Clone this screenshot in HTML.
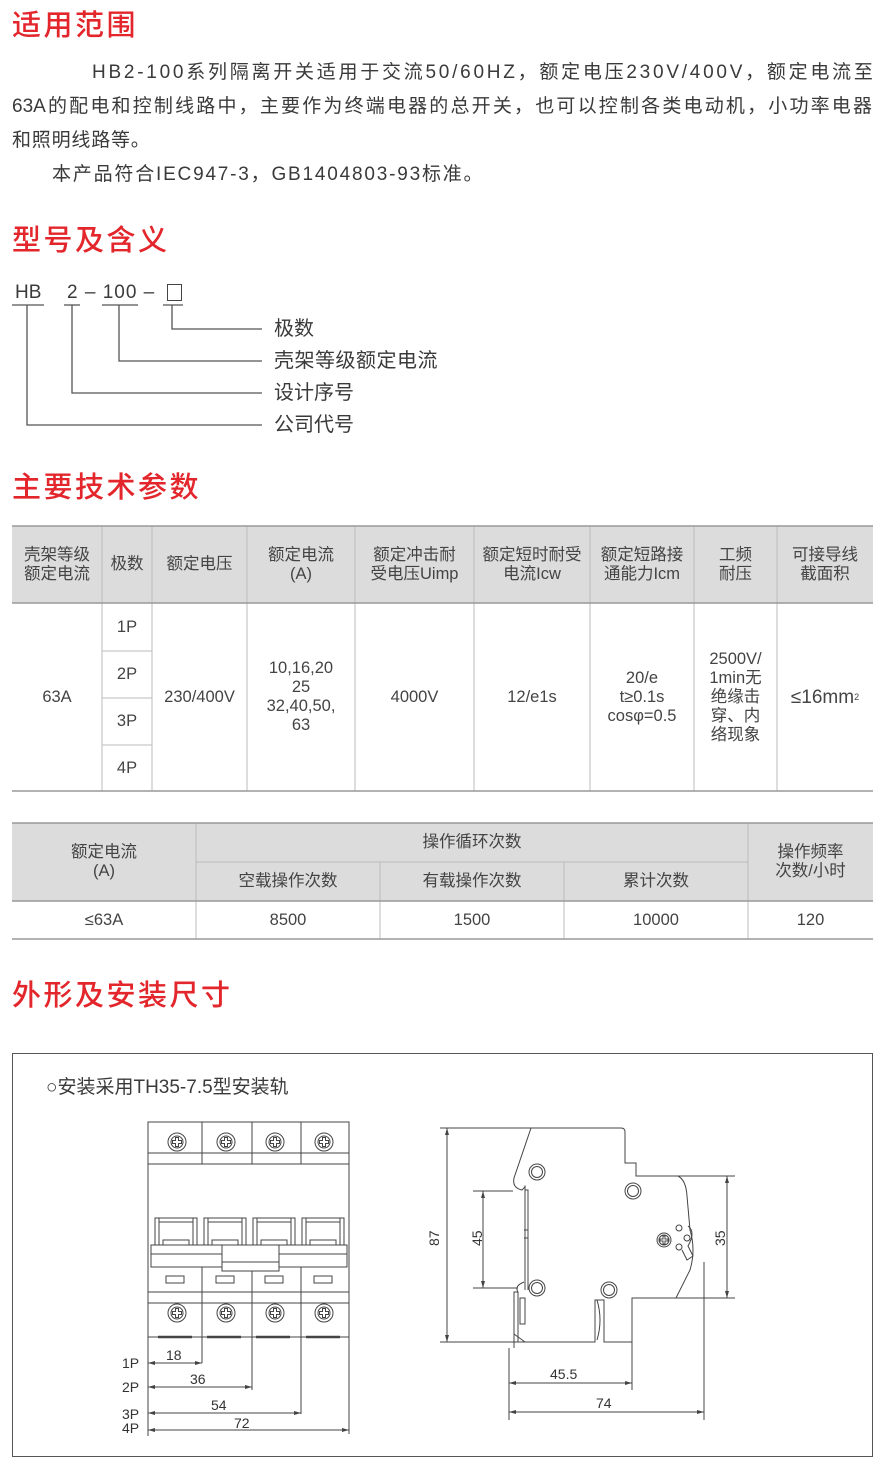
<!DOCTYPE html>
<html><head><meta charset="utf-8"><style>
*{margin:0;padding:0;box-sizing:border-box}
body{width:881px;height:1480px;background:#fff;position:relative;overflow:hidden;font-family:"Liberation Sans","Noto Sans CJK SC",sans-serif;color:#3a3a3a}
.h{position:absolute;left:12px;color:#e3262b;font-size:29px;font-weight:500;letter-spacing:2.5px;line-height:34px}
.t{position:absolute;font-size:19px;line-height:22px;white-space:nowrap;color:#3a3a3a}
.j{text-align:justify;text-align-last:justify;white-space:normal}
.c{position:absolute;display:flex;align-items:center;justify-content:center;text-align:center;font-size:16.5px;line-height:19px;color:#444}
.g{background:#dcdcdc}
svg{position:absolute;left:0;top:0}
</style></head><body>
<div class="h" style="top:9px">适用范围</div>
<div class="t" style="left:92px;top:62px;letter-spacing:2.75px">HB2-100系列隔离开关适用于交流50/60HZ，额定电压230V/400V，额定电流至</div>
<div class="t j" style="left:12px;top:96px;width:860px">63A的配电和控制线路中，主要作为终端电器的总开关，也可以控制各类电动机，小功率电器</div>
<div class="t" style="left:12px;top:130px;letter-spacing:0.8px">和照明线路等。</div>
<div class="t" style="left:52px;top:164px;letter-spacing:1.8px">本产品符合IEC947-3，GB1404803-93标准。</div>

<div class="h" style="top:224px">型号及含义</div>
<div class="t" style="left:15px;top:282px;font-size:19px">HB</div>
<div class="t" style="left:67px;top:282px;font-size:19px;letter-spacing:1px">2 – 100 –</div>
<div style="position:absolute;left:167px;top:284px;width:15px;height:17px;border:1.5px solid #444"></div>
<div class="t" style="left:274px;top:318px;font-size:20px">极数</div>
<div class="t" style="left:274px;top:350px;font-size:20px;letter-spacing:0.5px">壳架等级额定电流</div>
<div class="t" style="left:274px;top:382px;font-size:20px">设计序号</div>
<div class="t" style="left:274px;top:414px;font-size:20px">公司代号</div>

<div class="h" style="top:471px">主要技术参数</div>

<div class="c g" style="left:12px;top:526px;width:861px;height:77px"></div>
<div class="c" style="left:12px;top:526px;width:90px;height:77px">壳架等级<br>额定电流</div>
<div class="c" style="left:102px;top:526px;width:50px;height:77px">极数</div>
<div class="c" style="left:152px;top:526px;width:95px;height:77px">额定电压</div>
<div class="c" style="left:247px;top:526px;width:108px;height:77px">额定电流<br>(A)</div>
<div class="c" style="left:355px;top:526px;width:119px;height:77px">额定冲击耐<br>受电压Uimp</div>
<div class="c" style="left:474px;top:526px;width:116px;height:77px">额定短时耐受<br>电流Icw</div>
<div class="c" style="left:590px;top:526px;width:104px;height:77px">额定短路接<br>通能力Icm</div>
<div class="c" style="left:694px;top:526px;width:83px;height:77px">工频<br>耐压</div>
<div class="c" style="left:777px;top:526px;width:96px;height:77px">可接导线<br>截面积</div>
<div class="c" style="left:12px;top:603px;width:90px;height:188px">63A</div>
<div class="c" style="left:102px;top:603px;width:50px;height:48px">1P</div>
<div class="c" style="left:102px;top:651px;width:50px;height:47px">2P</div>
<div class="c" style="left:102px;top:698px;width:50px;height:47px">3P</div>
<div class="c" style="left:102px;top:745px;width:50px;height:46px">4P</div>
<div class="c" style="left:152px;top:603px;width:95px;height:188px">230/400V</div>
<div class="c" style="left:247px;top:603px;width:108px;height:188px">10,16,20<br>25<br>32,40,50,<br>63</div>
<div class="c" style="left:355px;top:603px;width:119px;height:188px">4000V</div>
<div class="c" style="left:474px;top:603px;width:116px;height:188px">12/e1s</div>
<div class="c" style="left:590px;top:603px;width:104px;height:188px">20/e<br>t≥0.1s<br>cosφ=0.5</div>
<div class="c" style="left:694px;top:603px;width:83px;height:188px">2500V/<br>1min无<br>绝缘击<br>穿、内<br>络现象</div>
<div class="c" style="left:777px;top:603px;width:96px;height:188px;font-size:19px">≤16mm<sup style="font-size:9px">2</sup></div>

<div class="c g" style="left:12px;top:823px;width:861px;height:78px"></div>
<div class="c" style="left:12px;top:823px;width:184px;height:78px">额定电流<br>(A)</div>
<div class="c" style="left:196px;top:823px;width:552px;height:39px">操作循环次数</div>
<div class="c" style="left:196px;top:862px;width:184px;height:39px">空载操作次数</div>
<div class="c" style="left:380px;top:862px;width:184px;height:39px">有载操作次数</div>
<div class="c" style="left:564px;top:862px;width:184px;height:39px">累计次数</div>
<div class="c" style="left:748px;top:823px;width:125px;height:78px">操作频率<br>次数/小时</div>
<div class="c" style="left:12px;top:901px;width:184px;height:38px">≤63A</div>
<div class="c" style="left:196px;top:901px;width:184px;height:38px">8500</div>
<div class="c" style="left:380px;top:901px;width:184px;height:38px">1500</div>
<div class="c" style="left:564px;top:901px;width:184px;height:38px">10000</div>
<div class="c" style="left:748px;top:901px;width:125px;height:38px">120</div>

<div class="h" style="top:979px">外形及安装尺寸</div>
<div class="t" style="left:46px;top:1077px">○安装采用TH35-7.5型安装轨</div>

<svg width="881" height="1480" viewBox="0 0 881 1480" fill="none" stroke="#444" stroke-width="1">
<g stroke="#555" stroke-width="1.3">
<line x1="12" y1="305" x2="44" y2="305"/><line x1="64" y1="305" x2="80" y2="305"/><line x1="102" y1="305" x2="138" y2="305"/><line x1="163" y1="305" x2="183" y2="305"/>
<polyline points="172,305 172,329 262,329"/>
<polyline points="119,305 119,361 262,361"/>
<polyline points="72,305 72,393 262,393"/>
<polyline points="27,305 27,425 262,425"/>
</g>
<g stroke="#bbb">
<line x1="102" y1="526" x2="102" y2="791"/><line x1="152" y1="526" x2="152" y2="791"/><line x1="247" y1="526" x2="247" y2="791"/><line x1="355" y1="526" x2="355" y2="791"/><line x1="474" y1="526" x2="474" y2="791"/><line x1="590" y1="526" x2="590" y2="791"/><line x1="694" y1="526" x2="694" y2="791"/><line x1="777" y1="526" x2="777" y2="791"/>
<line x1="102" y1="651" x2="152" y2="651"/><line x1="102" y1="698" x2="152" y2="698"/><line x1="102" y1="745" x2="152" y2="745"/>
<line x1="196" y1="823" x2="196" y2="939"/><line x1="380" y1="862" x2="380" y2="939"/><line x1="564" y1="862" x2="564" y2="939"/><line x1="748" y1="823" x2="748" y2="939"/><line x1="196" y1="862" x2="748" y2="862"/>
</g>
<g stroke="#999" stroke-width="1.5">
<line x1="12" y1="526" x2="873" y2="526"/><line x1="12" y1="603" x2="873" y2="603"/><line x1="12" y1="791" x2="873" y2="791"/>
<line x1="12" y1="823" x2="873" y2="823"/><line x1="12" y1="901" x2="873" y2="901"/><line x1="12" y1="939" x2="873" y2="939"/>
</g>
<rect x="12.5" y="1053.5" width="860" height="403" stroke="#555"/>

<rect x="148" y="1122" width="201" height="215"/>
<line x1="148" y1="1153" x2="349" y2="1153"/><line x1="148" y1="1164" x2="349" y2="1164"/>
<line x1="202" y1="1122" x2="202" y2="1164"/><line x1="252" y1="1122" x2="252" y2="1164"/><line x1="301" y1="1122" x2="301" y2="1164"/>
<g id="sc"><circle cx="177" cy="1142" r="9"/><circle cx="177" cy="1142" r="6"/><path d="M175.5 1137.5h3v3h3v3h-3v3h-3v-3h-3v-3h3z"/></g>
<use href="#sc" x="49"/><use href="#sc" x="98"/><use href="#sc" x="147"/>
<use href="#sc" y="171"/><use href="#sc" x="49" y="171"/><use href="#sc" x="98" y="171"/><use href="#sc" x="147" y="171"/>
<g id="hd"><rect x="155" y="1218" width="42" height="27"/><line x1="159" y1="1218" x2="159" y2="1245"/><line x1="193" y1="1218" x2="193" y2="1245"/><line x1="159" y1="1222" x2="193" y2="1222"/><rect x="163" y="1240" width="26" height="5"/></g>
<use href="#hd" x="49"/><use href="#hd" x="98"/><use href="#hd" x="147"/>
<rect x="151" y="1245" width="196" height="22" fill="#fff"/>
<line x1="151" y1="1254" x2="347" y2="1254"/>
<rect x="222" y="1245" width="57" height="26" fill="#fff"/><line x1="222" y1="1262" x2="279" y2="1262"/>
<line x1="202" y1="1267" x2="202" y2="1337"/><line x1="252" y1="1271" x2="252" y2="1337"/><line x1="301" y1="1267" x2="301" y2="1337"/>
<rect x="166" y="1276" width="18" height="7"/><rect x="216" y="1276" width="18" height="7"/><rect x="265" y="1276" width="18" height="7"/><rect x="314" y="1276" width="18" height="7"/>
<line x1="148" y1="1292" x2="349" y2="1292"/><line x1="148" y1="1303" x2="349" y2="1303"/>
<g stroke-width="2.5"><line x1="158" y1="1337" x2="192" y2="1337"/><line x1="207" y1="1337" x2="241" y2="1337"/><line x1="256" y1="1337" x2="290" y2="1337"/><line x1="306" y1="1337" x2="340" y2="1337"/></g>
<line x1="148" y1="1337" x2="148" y2="1436"/><line x1="202" y1="1337" x2="202" y2="1363"/><line x1="252" y1="1337" x2="252" y2="1390"/><line x1="301" y1="1337" x2="301" y2="1414"/><line x1="349" y1="1337" x2="349" y2="1434"/>
<g fill="#444">
<line x1="148" y1="1363" x2="202" y2="1363"/><line x1="148" y1="1387" x2="252" y2="1387"/><line x1="148" y1="1413" x2="301" y2="1413"/><line x1="148" y1="1430" x2="349" y2="1430"/>
<path d="M148 1363l7-2v4zM202 1363l-7-2v4zM148 1387l7-2v4zM252 1387l-7-2v4zM148 1413l7-2v4zM301 1413l-7-2v4zM148 1430l7-2v4zM349 1430l-7-2v4z" stroke="none"/>
</g>
<path d="M531 1128H621q4 0 4 4V1163H636V1176H678q8 4 9 20L690 1230q6 20 0 40L676 1298H632V1342H604V1300H595V1342H528"/>
<path d="M531 1128L514 1178q-2 10 8 12q4-4 3-4V1290"/>
<path d="M525 1190h3V1290M524 1230h4v8h-4"/>
<path d="M524 1282q-10 4-6 10V1342M518 1292h-4V1348"/>
<rect x="520" y="1298" width="5" height="26"/>
<line x1="514" y1="1334" x2="525" y2="1342"/>
<path d="M597 1300q6 20 0 40"/>
<path d="M688 1226q8 6 0 20l5 10-6 4-5-10"/>
<g><circle cx="537" cy="1172" r="8"/><circle cx="537" cy="1172" r="5.5"/>
<circle cx="633" cy="1191" r="8"/><circle cx="633" cy="1191" r="5.5"/>
<circle cx="537" cy="1288" r="8"/><circle cx="537" cy="1288" r="5.5"/>
<circle cx="609" cy="1290" r="8"/><circle cx="609" cy="1290" r="5.5"/>
<circle cx="664" cy="1240" r="7"/><circle cx="664" cy="1240" r="5"/><path d="M663 1236h2v3h3v2h-3v3h-2v-3h-3v-2h3z"/>
<circle cx="679" cy="1228" r="3"/><circle cx="687" cy="1238" r="3"/><circle cx="679" cy="1247" r="3"/></g>
<line x1="440" y1="1128" x2="531" y2="1128"/><line x1="440" y1="1342" x2="528" y2="1342"/>
<line x1="473" y1="1191" x2="513" y2="1191"/><line x1="473" y1="1288" x2="518" y2="1288"/>
<line x1="676" y1="1176" x2="735" y2="1176"/><line x1="676" y1="1298" x2="735" y2="1298"/>
<line x1="509" y1="1348" x2="509" y2="1420"/><line x1="632" y1="1342" x2="632" y2="1390"/><line x1="704" y1="1262" x2="704" y2="1420"/>
<g fill="#444">
<line x1="447" y1="1128" x2="447" y2="1342"/><line x1="483" y1="1191" x2="483" y2="1288"/><line x1="727" y1="1176" x2="727" y2="1298"/>
<line x1="509" y1="1383" x2="632" y2="1383"/><line x1="509" y1="1412" x2="704" y2="1412"/>
<path d="M447 1128l-2 7h4zM447 1342l-2-7h4zM483 1191l-2 7h4zM483 1288l-2-7h4zM727 1176l-2 7h4zM727 1298l-2-7h4zM509 1383l7-2v4zM632 1383l-7-2v4zM509 1412l7-2v4zM704 1412l-7-2v4z" stroke="none"/>
</g>
<g fill="#333" stroke="none" font-family="Liberation Sans,sans-serif" font-size="14">
<text x="166" y="1360">18</text><text x="190" y="1384">36</text><text x="211" y="1410">54</text><text x="234" y="1428">72</text>
<text x="122" y="1368">1P</text><text x="122" y="1392">2P</text><text x="122" y="1419">3P</text><text x="122" y="1433">4P</text>
<text x="550" y="1379">45.5</text><text x="596" y="1408">74</text>
<text transform="translate(439 1246) rotate(-90)">87</text>
<text transform="translate(482 1246) rotate(-90)">45</text>
<text transform="translate(725 1246) rotate(-90)">35</text>
</g>
</svg>
</body></html>
